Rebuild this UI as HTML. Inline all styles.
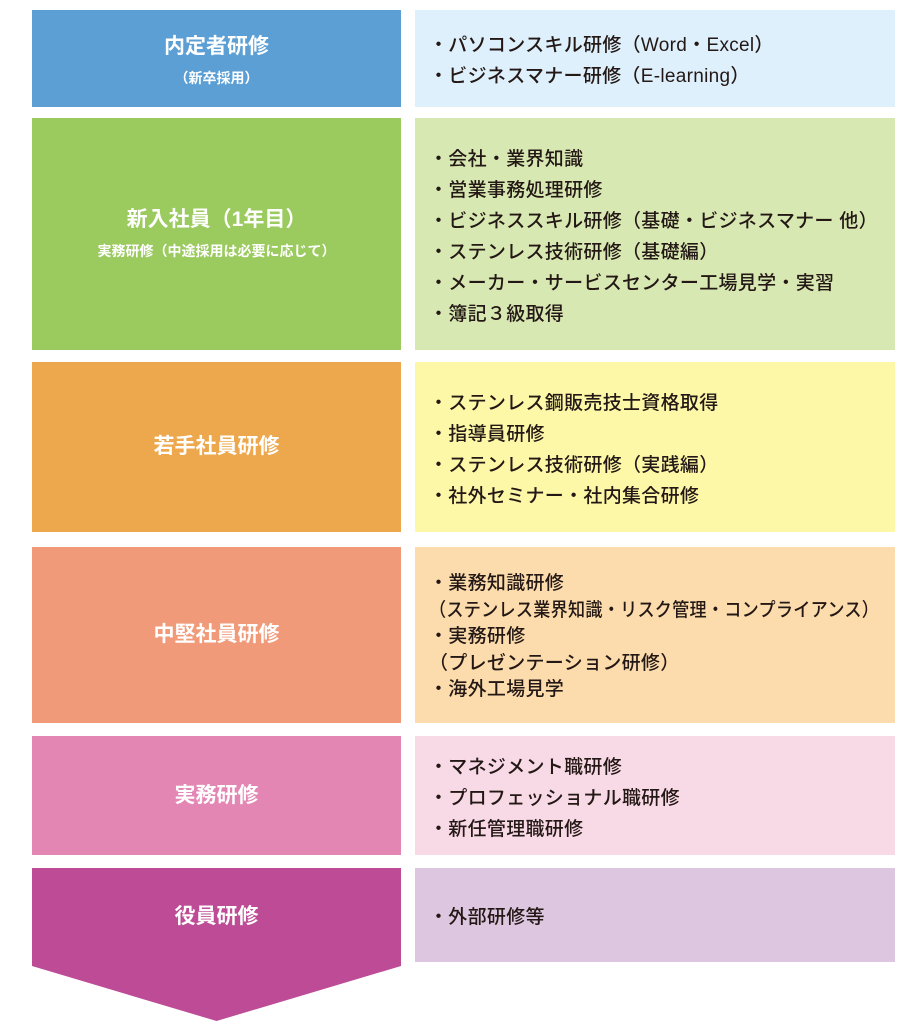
<!DOCTYPE html>
<html><head><meta charset="utf-8"><style>
body{margin:0;width:917px;height:1030px;background:#fff;position:relative;font-family:"Liberation Sans","Noto Sans CJK JP",sans-serif;overflow:hidden}
.l,.r{position:absolute;box-sizing:border-box}
.l{left:32px;width:369px;color:#fff;font-weight:bold;text-align:center;display:flex;flex-direction:column;justify-content:center;align-items:center}
.l .t{font-size:21px;line-height:28px}
.l .s{font-size:14px;line-height:34px}
.r{left:415px;width:480px;padding-left:14px;padding-top:5px;display:flex;flex-direction:column;justify-content:center;color:#231815;font-size:19px;line-height:31px;font-weight:500;letter-spacing:0.3px}
.r div{white-space:nowrap}
.sq{display:inline-block;transform:scaleX(0.9);transform-origin:left center}
</style></head><body>
<div class="l" style="top:10px;height:97px;background:#5b9fd5;padding-top:10px"><div class="t">内定者研修</div><div class="s">（新卒採用）</div></div>
<div class="r" style="top:10px;height:97px;background:#def0fb"><div>・パソコンスキル研修（Word・Excel）</div><div>・ビジネスマナー研修（E-learning）</div></div>

<div class="l" style="top:118px;height:232px;background:#9bca5f;padding-top:6px"><div class="t">新入社員（1年目）</div><div class="s">実務研修（中途採用は必要に応じて）</div></div>
<div class="r" style="top:118px;height:232px;background:#d8e8b2"><div>・会社・業界知識</div><div>・営業事務処理研修</div><div>・ビジネススキル研修（基礎・ビジネスマナー 他）</div><div>・ステンレス技術研修（基礎編）</div><div>・メーカー・サービスセンター工場見学・実習</div><div>・簿記３級取得</div></div>

<div class="l" style="top:362px;height:170px;background:#eda84e"><div class="t">若手社員研修</div></div>
<div class="r" style="top:362px;height:170px;background:#fdf8a8"><div>・ステンレス鋼販売技士資格取得</div><div>・指導員研修</div><div>・ステンレス技術研修（実践編）</div><div>・社外セミナー・社内集合研修</div></div>

<div class="l" style="top:547px;height:176px;background:#f19a79"><div class="t">中堅社員研修</div></div>
<div class="r" style="top:547px;height:176px;background:#fcdcac;line-height:26.5px"><div>・業務知識研修</div><div><span class="sq">（ステンレス業界知識・リスク管理・コンプライアンス）</span></div><div>・実務研修</div><div>（プレゼンテーション研修）</div><div>・海外工場見学</div></div>

<div class="l" style="top:736px;height:119px;background:#e486b4"><div class="t">実務研修</div></div>
<div class="r" style="top:736px;height:119px;background:#f8d9e6"><div>・マネジメント職研修</div><div>・プロフェッショナル職研修</div><div>・新任管理職研修</div></div>

<svg style="position:absolute;left:32px;top:868px" width="369" height="155"><polygon points="0,0 369,0 369,98 184.5,153 0,98" fill="#bd4b95"/></svg>
<div class="l" style="top:868px;height:98px"><div class="t">役員研修</div></div>
<div class="r" style="top:868px;height:94px;background:#ddc6df"><div>・外部研修等</div></div>
</body></html>
